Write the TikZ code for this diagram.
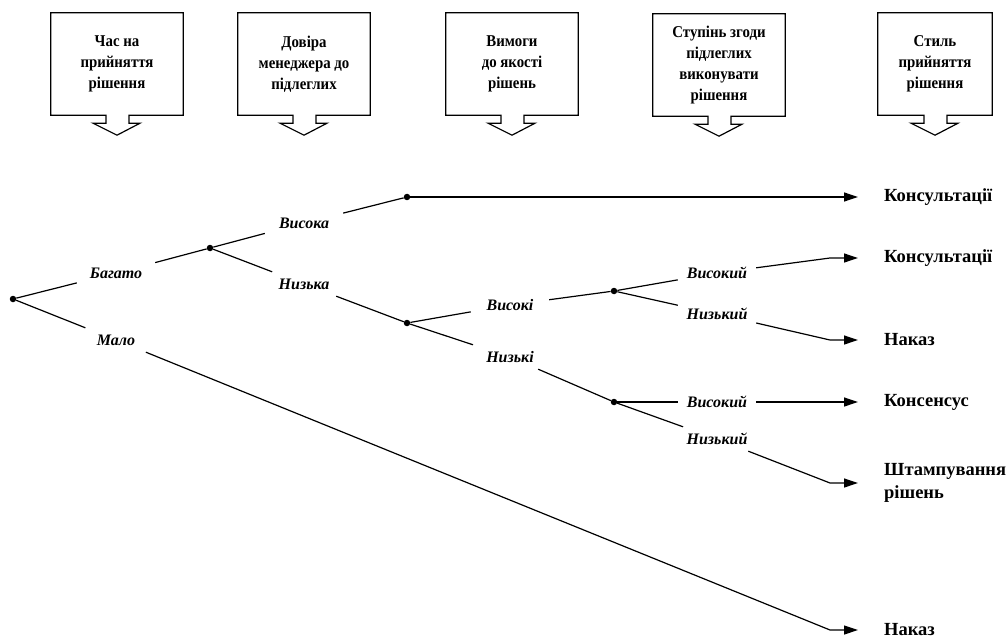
\documentclass[tikz,border=0pt]{standalone}
\usepackage{fontspec}
\setmainfont{Liberation Serif}
\newfontfamily\hdrfont{Liberation Serif}[FakeStretch=0.9]
\usetikzlibrary{arrows.meta,positioning}

\begin{document}
\begin{tikzpicture}[x=1pt,y=-1pt,
  hdr/.style={align=center,minimum width=132pt,minimum height=102pt,inner sep=0pt,font=\hdrfont\bfseries\fontsize{16.5}{21}\selectfont},
  frame/.style={line width=1.2pt},
  dot/.style={circle,fill,inner sep=0pt,minimum size=6.5pt},
  lbl/.style={minimum width=78pt,minimum height=24pt,inner sep=0pt,font=\bfseries\itshape\fontsize{16}{18}\selectfont},
  res/.style={anchor=west,align=left,inner xsep=26pt,inner ysep=0pt,font=\bfseries\fontsize{18.5}{23}\selectfont},
  ln/.style={line width=1.2pt},
  arr/.style={ln,-{Triangle[length=14pt,width=9pt]}}]
  \useasboundingbox (0,0) rectangle (1006,639);
  % header boxes
  \node[hdr] (tm) at (117,64) {Час на\\прийняття\\рішення};
  \node[hdr] (tr) at (304,64) {Довіра\\менеджера до\\підлеглих};
  \node[hdr] (qu) at (512,64) {Вимоги\\до якості\\рішень};
  \node[hdr] (ag) at (719,65) {Ступінь згоди\\підлеглих\\виконувати\\рішення};
  \node[hdr,minimum width=114pt] (st) at (935,64) {Стиль\\прийняття\\рішення};
  \foreach \h in {tm,tr,qu,ag,st}
    \draw[frame] (\h.south west) -- (\h.north west) -- (\h.north east) -- (\h.south east)
      -- ([xshift=12pt]\h.south) -- ++(0,8) -- ++(11,0) -- ++(-23,12) -- ++(-24,-12) -- ++(13,0) -- ++(0,-8) -- cycle;
  % tree
  \node[dot] (n0) at (13,299) {};
  \node[dot] (n1) at (210,248) {};
  \node[dot] (n2) at (407,197) {};
  \node[dot] (n3) at (407,323) {};
  \node[dot] (n4) at (614,291) {};
  \node[dot] (n5) at (614,402) {};
  \node[lbl] (bag) at (116,273) {Багато};
  \node[lbl] (mal) at (116,340) {Мало};
  \node[lbl] (vsa) at (304,223) {Висока};
  \node[lbl] (nza) at (304,284) {Низька};
  \node[lbl] (vsi) at (510,305) {Високі};
  \node[lbl] (nzi) at (510,357) {Низькі};
  \node[lbl] (vy1) at (717,273) {Високий};
  \node[lbl] (ny1) at (717,314) {Низький};
  \node[lbl] (vy2) at (717,402) {Високий};
  \node[lbl] (ny2) at (717,439) {Низький};
  \coordinate (b1) at (830,258);
  \coordinate (b2) at (830,340);
  \coordinate (b3) at (830,483);
  \coordinate (b4) at (830,630);
  % outcomes
  \node[res] (o1) at (858,197) {Консультації};
  \node[res] (o2) at (858,258) {Консультації};
  \node[res] (o3) at (858,340) {Наказ};
  \node[res] (o4) at (858,402) {Консенсус};
  \node[res] (o5) at (858,483) {Штампування\\рішень};
  \node[res] (o6) at (858,630) {Наказ};
  \draw[ln] (n0) -- (bag); \draw[ln] (bag) -- (n1);
  \draw[ln] (n0) -- (mal); \draw[arr] (mal) -- (b4) -- (o6.west);
  \draw[ln] (n1) -- (vsa); \draw[ln] (vsa) -- (n2);
  \draw[ln] (n1) -- (nza); \draw[ln] (nza) -- (n3);
  \draw[arr] (n2) -- (o1.west);
  \draw[ln] (n3) -- (vsi); \draw[ln] (vsi) -- (n4);
  \draw[ln] (n3) -- (nzi); \draw[ln] (nzi) -- (n5);
  \draw[ln] (n4) -- (vy1); \draw[arr] (vy1) -- (b1) -- (o2.west);
  \draw[ln] (n4) -- (ny1); \draw[arr] (ny1) -- (b2) -- (o3.west);
  \draw[ln] (n5) -- (vy2); \draw[arr] (vy2) -- (o4.west);
  \draw[ln] (n5) -- (ny2); \draw[arr] (ny2) -- (b3) -- (o5.west);
\end{tikzpicture}
\end{document}
